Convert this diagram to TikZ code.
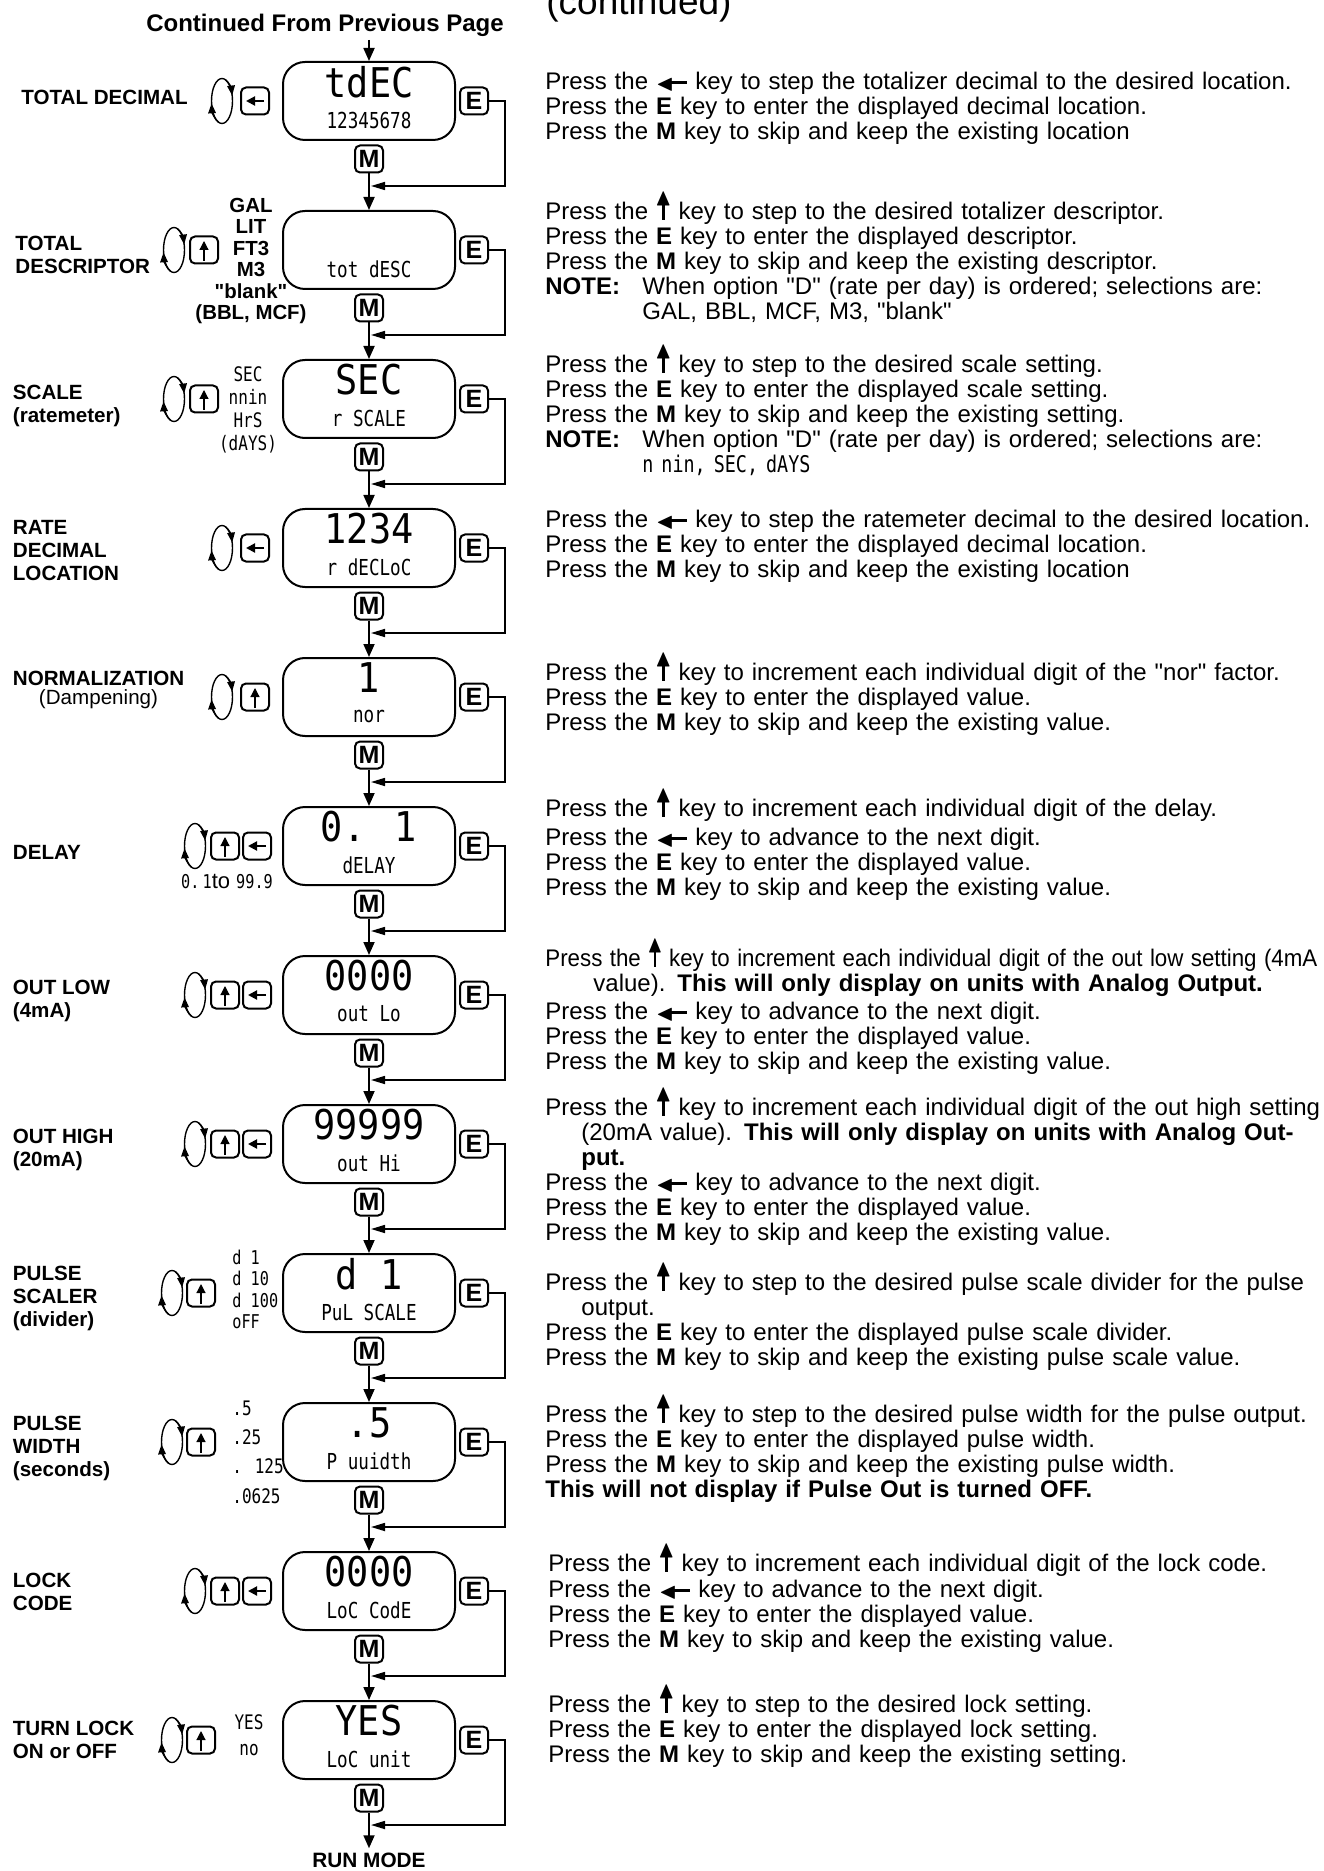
\documentclass[tikz,border=0pt]{standalone}
\usepackage{amssymb}
\usepackage{graphicx}
\usepackage{fontspec}
\setmainfont{Liberation Sans}[Ligatures=TeXOff]
\newfontfamily\segbigfont[FakeStretch=0.9]{DejaVu Sans Mono}
\newfontfamily\segfont[FakeStretch=0.8]{DejaVu Sans Mono}
\usetikzlibrary{arrows.meta}

\newcommand\txtup{\smash{\makebox[0.6em]{\rlap{\makebox[0.6em]{\rule{0.12em}{0.8em}}}\makebox[0.6em]{\raisebox{0.6em}{\scalebox{0.95}[1]{$\blacktriangle$}}}}}}
\newcommand\txtleft{\smash{\makebox[1.3em]{\rlap{\makebox[1.3em][r]{\rule[0.23em]{0.8em}{0.13em}}}\makebox[1.3em][l]{\raisebox{-0.02em}{\scalebox{0.95}{$\blacktriangleleft$}}}}}}
\newcommand\segtxt[2][10]{{\segfont\fontsize{#1}{#1}\selectfont #2}}

\tikzset{
  display/.style={draw, line width=1pt, rounded corners=11pt, minimum width=86pt, minimum height=39pt, inner sep=0pt},
  keybox/.style={draw, line width=1pt, rounded corners=2.5pt, minimum width=14pt, minimum height=13.5pt, inner sep=0pt, font=\bfseries\fontsize{12.5}{12.5}\selectfont},
  leftkey/.style={keybox, path picture={\draw[keyarr] ([xshift=4.5pt]path picture bounding box.center) -- ([xshift=-4.5pt]path picture bounding box.center);}},
  upkey/.style={keybox, path picture={\draw[keyarr, line width=0.6pt] ([yshift=-5.5pt]path picture bounding box.center) -- ([yshift=4.5pt]path picture bounding box.center);}},
  segbig/.style={font=\segbigfont\fontsize{20.5}{20.5}\selectfont, inner sep=0pt},
  segsmall/.style={font=\segfont\fontsize{11}{11}\selectfont, inner sep=0pt},
  segopt/.style={font=\segfont\fontsize{10}{#1}\selectfont, inner sep=0pt, align=center},
  rowlabel/.style={font=\bfseries\fontsize{10.3}{11.5}\selectfont, align=left, anchor=west, inner sep=0pt},
  notes/.style={font=\fontsize{12}{12.5}\selectfont, text width=387.5pt, align=left, anchor=north west, inner sep=0pt},
  flow/.style={line width=0.9pt, -{Triangle[length=6.5pt,width=5.5pt]}},
  ret/.style={line width=0.8pt, -{Triangle[length=7pt,width=4pt]}},
  keyarr/.style={line width=1pt, -{Triangle[length=4.5pt,width=4.5pt]}},
  rotsym/.pic={
    \draw[line width=0.7pt] (0,0) ellipse [x radius=5.25pt, y radius=11.25pt];
    \draw[line width=0.7pt, -{Triangle[length=5pt,width=3.8pt]}] (250:5.25pt and 11.25pt) arc [start angle=250, end angle=186, x radius=5.25pt, y radius=11.25pt];
    \draw[line width=0.7pt, -{Triangle[length=5pt,width=3.8pt]}] (70:5.25pt and 11.25pt) arc [start angle=70, end angle=14, x radius=5.25pt, y radius=11.25pt];
  }
}

\begin{document}
\begin{tikzpicture}[x=0.5pt,y=-0.5pt]
\useasboundingbox (0,0) rectangle (1323,1871);

\node[font=\bfseries\fontsize{12}{12}\selectfont, inner sep=0pt] (cont) at (325,25) {Continued From Previous Page};
\node[font=\fontsize{18.5}{18.5}\selectfont, anchor=base west, inner sep=0pt] (contd) at (546,15) {(continued)};
\coordinate (cstart) at (369,40);
\coordinate (rx) at (505,0);

% displays, E and M keys
\foreach \i/\dtop/\dbot in {1/tdEC/12345678, 2//tot dESC, 3/SEC/r SCALE, 4/1234/r dECLoC, 5/1/nor, 6/0. 1/dELAY, 7/0000/out Lo, 8/99999/out Hi, 9/d 1/PuL SCALE, 10/.5/P uuidth, 11/0000/LoC CodE, 12/YES/LoC unit}{
  \pgfmathsetmacro\yc{101+149*(\i-1)}
  \node[display] (d\i) at (369,\yc) {};
  \node[segbig] (d\i t) at ([yshift=9.5pt]d\i.center) {\dtop};
  \node[segsmall] (d\i b) at ([yshift=-9.5pt]d\i.center) {\dbot};
  \node[keybox] (e\i) at (474,\yc) {E};
  \node[keybox] (m\i) at (369,\yc+58) {M};
  \coordinate (j\i) at (371,\yc+85);
  \draw[ret] (e\i.east) -- (e\i.east -| rx) |- (j\i);
}
\node[font=\bfseries\fontsize{10.4}{10.4}\selectfont, inner sep=2pt] (run) at (369,1860) {RUN MODE};

\draw[flow] (cstart) -- (d1.north);
\foreach \i [evaluate=\i as \n using int(\i+1)] in {1,...,11}
  \draw[flow] (m\i.south) -- (d\n.north);
\draw[flow] (m12.south) -- (run.north);

% keys left of the displays
\pic at (222,101) {rotsym};
\node[leftkey] (k1) at (255,101) {};
\pic at (174,250) {rotsym};
\node[upkey] (k2) at (204,250) {};
\pic at (174,399) {rotsym};
\node[upkey] (k3) at (204,399) {};
\pic at (222,548) {rotsym};
\node[leftkey] (k4) at (255,548) {};
\pic at (222,697) {rotsym};
\node[upkey] (k5) at (255,697) {};
\pic at (195,846) {rotsym};
\node[upkey] (k6u) at (225,846) {};
\node[leftkey] (k6l) at (257,846) {};
\pic at (195,995) {rotsym};
\node[upkey] (k7u) at (225,995) {};
\node[leftkey] (k7l) at (257,995) {};
\pic at (195,1144) {rotsym};
\node[upkey] (k8u) at (225,1144) {};
\node[leftkey] (k8l) at (257,1144) {};
\pic at (172,1293) {rotsym};
\node[upkey] (k9) at (201,1293) {};
\pic at (172,1442) {rotsym};
\node[upkey] (k10) at (201,1442) {};
\pic at (195,1591) {rotsym};
\node[upkey] (k11u) at (225,1591) {};
\node[leftkey] (k11l) at (257,1591) {};
\pic at (172,1740) {rotsym};
\node[upkey] (k12) at (201,1740) {};

% selections
\node[font=\bfseries\fontsize{10.2}{10.75}\selectfont, align=center, inner sep=0pt] (opt2) at (251,261) {GAL\\LIT\\FT3\\M3\\"blank"\\(BBL, MCF)};
\node[segopt=11.5pt] (opt3) at (248,409.5) {SEC\\nnin\\HrS\\(dAYS)};
\node[inner sep=0pt, font=\fontsize{11}{11}\selectfont] (opt6) at (227,882) {\segtxt[9.5]{0.\,1}to \segtxt[9.5]{99.9}};
\node[segopt=10.75pt, align=left, anchor=west, font=\segfont\fontsize{9.5}{10.75}\selectfont] (opt9) at (232,1289.5) {d 1\\d 10\\d 100\\oFF};
\node[segopt=14.65pt, align=left, anchor=west] (opt10) at (232,1452) {.5\\.25\\. 125\\.0625};
\node[segopt=13pt] (opt12) at (249,1735) {YES\\no};

% row labels
\node[rowlabel] (lab1) at (21,97) {TOTAL DECIMAL};
\node[rowlabel] (lab2) at (15,255) {TOTAL\\DESCRIPTOR};
\node[rowlabel] (lab3) at (12.5,406) {SCALE\\(ratemeter)};
\node[rowlabel] (lab4) at (12.5,551) {RATE\\DECIMAL\\LOCATION};
\node[rowlabel, align=center, font=\bfseries\fontsize{10.3}{9.6}\selectfont] (lab5) at (12.5,690) {NORMALIZATION\\\mdseries(Dampening)};
\node[rowlabel] (lab6) at (12.5,852) {DELAY};
\node[rowlabel] (lab7) at (12.5,1001) {OUT LOW\\(4mA)};
\node[rowlabel] (lab8) at (12.5,1150) {OUT HIGH\\(20mA)};
\node[rowlabel] (lab9) at (12.5,1298) {PULSE\\SCALER\\(divider)};
\node[rowlabel] (lab10) at (12.5,1448) {PULSE\\WIDTH\\(seconds)};
\node[rowlabel] (lab11) at (12.5,1592) {LOCK\\CODE};
\node[rowlabel] (lab12) at (12.5,1740) {TURN LOCK\\ON or OFF};

% explanations
\node[notes] (txt1) at (545,72) {\strut Press the \txtleft{} key to step the totalizer decimal to the desired location.\\
Press the \textbf{E} key to enter the displayed decimal location.\\
Press the \textbf{M} key to skip and keep the existing location};
\node[notes] (txt2) at (545,202) {\strut Press the \txtup{} key to step to the desired totalizer descriptor.\\
Press the \textbf{E} key to enter the displayed descriptor.\\
Press the \textbf{M} key to skip and keep the existing descriptor.\\
\makebox[48.5pt][l]{\textbf{NOTE:}}When option "D" (rate per day) is ordered; selections are:\\
\hspace*{48.5pt}GAL, BBL, MCF, M3, "blank"};
\node[notes] (txt3) at (545,355) {\strut Press the \txtup{} key to step to the desired scale setting.\\
Press the \textbf{E} key to enter the displayed scale setting.\\
Press the \textbf{M} key to skip and keep the existing setting.\\
\makebox[48.5pt][l]{\textbf{NOTE:}}When option "D" (rate per day) is ordered; selections are:\\
\hspace*{48.5pt}\segtxt[11.5]{n nin, SEC, dAYS}};
\node[notes] (txt4) at (545,510) {\strut Press the \txtleft{} key to step the ratemeter decimal to the desired location.\\
Press the \textbf{E} key to enter the displayed decimal location.\\
Press the \textbf{M} key to skip and keep the existing location};
\node[notes] (txt5) at (545,663) {\strut Press the \txtup{} key to increment each individual digit of the "nor" factor.\\
Press the \textbf{E} key to enter the displayed value.\\
Press the \textbf{M} key to skip and keep the existing value.};
\node[notes] (txt6) at (545,799) {\strut Press the \txtup{} key to increment each individual digit of the delay.\\[2pt]
Press the \txtleft{} key to advance to the next digit.\\
Press the \textbf{E} key to enter the displayed value.\\
Press the \textbf{M} key to skip and keep the existing value.};
\node[notes] (txt7) at (545,949) {\strut\resizebox{386pt}{\height}{Press the \txtup{} key to increment each individual digit of the out low setting (4mA}\\
\hspace*{24pt}value). \textbf{This will only display on units with Analog Output.}\\[1.5pt]
Press the \txtleft{} key to advance to the next digit.\\
Press the \textbf{E} key to enter the displayed value.\\
Press the \textbf{M} key to skip and keep the existing value.};
\node[notes] (txt8) at (545,1098) {\strut\makebox[387.5pt][s]{Press the \txtup{} key to increment each individual digit of the out high setting}\\
\hspace*{18pt}\makebox[369.5pt][s]{(20mA value). \textbf{This will only display on units with Analog Out-}}\\
\hspace*{18pt}\textbf{put.}\\
Press the \txtleft{} key to advance to the next digit.\\
Press the \textbf{E} key to enter the displayed value.\\
Press the \textbf{M} key to skip and keep the existing value.};
\node[notes] (txt9) at (545,1273) {\strut\makebox[387.5pt][s]{Press the \txtup{} key to step to the desired pulse scale divider for the pulse}\\
\hspace*{18pt}output.\\
Press the \textbf{E} key to enter the displayed pulse scale divider.\\
Press the \textbf{M} key to skip and keep the existing pulse scale value.};
\node[notes] (txt10) at (545,1405) {\strut Press the \txtup{} key to step to the desired pulse width for the pulse output.\\
Press the \textbf{E} key to enter the displayed pulse width.\\
Press the \textbf{M} key to skip and keep the existing pulse width.\\
\textbf{This will not display if Pulse Out is turned OFF.}};
\node[notes] (txt11) at (548,1554) {\strut Press the \txtup{} key to increment each individual digit of the lock code.\\[0.5pt]
Press the \txtleft{} key to advance to the next digit.\\
Press the \textbf{E} key to enter the displayed value.\\
Press the \textbf{M} key to skip and keep the existing value.};
\node[notes] (txt12) at (548,1695) {\strut Press the \txtup{} key to step to the desired lock setting.\\
Press the \textbf{E} key to enter the displayed lock setting.\\
Press the \textbf{M} key to skip and keep the existing setting.};
\end{tikzpicture}
\end{document}
